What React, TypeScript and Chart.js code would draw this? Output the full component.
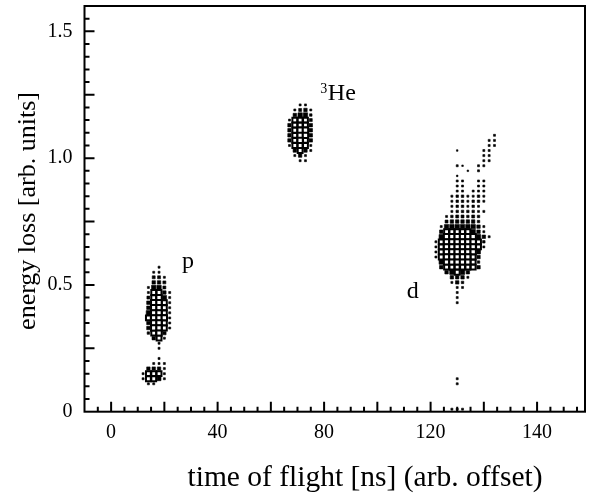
import React, { useEffect, useRef } from 'react';
import { Chart, registerables } from 'chart.js';

Chart.register(...registerables);

// ---- axes ----
const xTickValues = [0, 40, 80, 120, 160];
const xTickLabels = ['0', '40', '80', '120', '140'];
const yTickValues = [0, 0.5, 1.0, 1.5];
const yTickLabels = ['0', '0.5', '1.0', '1.5'];
const xMin = -10;
const xMax = 178;
const yMin = 0;
const yMax = 1.6;
const xMinorStep = 5;
const xMajorStep = 20;
const yMinorStep = 0.05;
const yMajorStep = 0.25;
const xTitle = 'time of flight [ns] (arb. offset)';
const yTitle = 'energy loss [arb. units]';

// ---- histogram binning ----
const binWidthTof = 2;
const binHeightLoss = 0.02;

// counts per bin (level 1..9, '.' = empty); rows go downward in energy loss
const pFirstTof = 12;
const pTopLoss = 0.57;
const pCounts = [
  '...2..',
  '..22..',
  '..442.',
  '..554.',
  '.2774.',
  '.28852',
  '.48972',
  '.59982',
  '.59982',
  '.79982',
  '.89992',
  '.59982',
  '.59982',
  '.3895.',
  '..582.',
  '...2..',
  '...2..',
  '......',
  '...2..',
  '..222.',
  '.5552.',
  '28882.',
  '28862.',
  '.22...',
];

const heFirstTof = 67;
const heTopLoss = 1.21;
const heCounts = [
  '..22.',
  '.2452',
  '.5773',
  '28884',
  '58885',
  '58995',
  '58995',
  '58985',
  '28882',
  '.5852',
  '.252.',
  '..22.',
];

const dFirstTof = 122;
const dTopLoss = 1.09;
const dCounts = [
  '...........2',
  '..........22',
  '..........22',
  '....1....22.',
  '.........22.',
  '.........22.',
  '....21..22..',
  '......1.2...',
  '....1.......',
  '....22..22..',
  '....22..22..',
  '....22.222..',
  '...2332232..',
  '...2332332..',
  '...233232...',
  '...2333322..',
  '..2344343...',
  '..4555553...',
  '.277777752..',
  '.588888752..',
  '.7999999752.',
  '2899999983..',
  '2899999982..',
  '289999996...',
  '289999985...',
  '.79999983...',
  '.58888885...',
  '..57875.....',
  '...5552.....',
  '...253......',
  '....22......',
  '....2.......',
  '....2.......',
  '....2.......',
];

const strayTof = [130, 130, 128, 130, 132];
const strayLoss = [0.13, 0.11, 0.01, 0.01, 0.01];
const strayCounts = [2, 2, 2, 2, 2];

// ---- peak labels (data coordinates) ----
const peakLabels = [
  { text: 'p', sup: '', tof: 26.6, loss: 0.567 },
  { text: 'He', sup: '3', tof: 81.4, loss: 1.228 },
  { text: 'd', sup: '', tof: 111, loss: 0.449 },
];

type Cell = { x: number; y: number; v: number };

function gridCells(firstTof: number, topLoss: number, rows: string[]): Cell[] {
  const out: Cell[] = [];
  rows.forEach((row, r) => {
    row.split('').forEach((ch, c) => {
      const v = ch === '.' ? 0 : Number(ch);
      if (v > 0) {
        out.push({
          x: firstTof + c * binWidthTof,
          y: Math.round((topLoss - r * binHeightLoss) * 1000) / 1000,
          v,
        });
      }
    });
  });
  return out;
}

const strayCells: Cell[] = strayTof.map((t, i) => ({ x: t, y: strayLoss[i], v: strayCounts[i] }));

const serif = '"Liberation Serif", "Times New Roman", serif';

function boxSize(ctx: any): number {
  const raw = ctx.raw as Cell | undefined;
  if (!raw) return 0;
  const sx = ctx.chart.scales.x;
  const bin = Math.abs(sx.getPixelForValue(binWidthTof) - sx.getPixelForValue(0)) || 5.3;
  return bin * (0.2 + 0.8 * raw.v / 9);
}

const framePlugin = {
  id: 'frameAndText',
  afterDatasetsDraw(chart: any) {
    const { ctx, chartArea: a, scales } = chart;
    const sx = scales.x;
    const sy = scales.y;
    ctx.save();
    ctx.strokeStyle = '#000';
    ctx.lineWidth = 2;
    ctx.strokeRect(a.left, a.top, a.right - a.left, a.bottom - a.top);
    ctx.beginPath();
    const nx = Math.floor((xMax - xMin) / xMinorStep + 1e-6);
    for (let i = 1; i <= nx; i++) {
      const v = xMin + i * xMinorStep;
      const px = sx.getPixelForValue(v);
      const major = Math.abs(v / xMajorStep - Math.round(v / xMajorStep)) < 1e-6;
      const len = major ? 10 : 5;
      ctx.moveTo(px, a.bottom);
      ctx.lineTo(px, a.bottom - len);
    }
    const ny = Math.floor((yMax - yMin) / yMinorStep + 1e-6);
    for (let i = 1; i < ny; i++) {
      const v = yMin + i * yMinorStep;
      const py = sy.getPixelForValue(v);
      const major = Math.abs(v / yMajorStep - Math.round(v / yMajorStep)) < 1e-6;
      const len = major ? 10 : 5;
      ctx.moveTo(a.left, py);
      ctx.lineTo(a.left + len, py);
    }
    ctx.stroke();

    ctx.fillStyle = '#000';
    // peak labels
    peakLabels.forEach((l) => {
      const px = sx.getPixelForValue(l.tof);
      const py = sy.getPixelForValue(l.loss);
      ctx.textAlign = 'left';
      ctx.textBaseline = 'alphabetic';
      if (l.sup) {
        ctx.font = `14px ${serif}`;
        const w = ctx.measureText(l.sup).width;
        ctx.fillText(l.sup, px - w - 0.5, py - 7.5);
      }
      ctx.font = `24px ${serif}`;
      ctx.fillText(l.text, px, py);
    });

    // axis titles
    ctx.textAlign = 'center';
    ctx.textBaseline = 'alphabetic';
    ctx.font = `29.5px ${serif}`;
    ctx.fillText(xTitle, 365, 486);
    ctx.font = `26px ${serif}`;
    ctx.translate(35, 211);
    ctx.rotate(-Math.PI / 2);
    ctx.fillText(yTitle, 0, 0);
    ctx.restore();
  },
};

export default function App() {
  const ref = useRef<HTMLCanvasElement | null>(null);
  useEffect(() => {
    if (!ref.current) return;
    const mk = (data: Cell[]) => ({
      data,
      pointStyle: 'rect' as const,
      pointRadius: (c: any) => {
        const s = boxSize(c);
        return s / Math.SQRT2;
      },
      pointBackgroundColor: (c: any) => (c.raw && c.raw.v >= 8 ? '#ffffff' : '#000000'),
      pointBorderColor: '#000000',
      pointBorderWidth: (c: any) => (c.raw && c.raw.v >= 8 ? 2 : 0.6),
      showLine: false,
    });
    const chart = new Chart(ref.current, {
      type: 'scatter',
      data: {
        datasets: [
          mk(gridCells(pFirstTof, pTopLoss, pCounts)),
          mk(gridCells(heFirstTof, heTopLoss, heCounts)),
          mk(gridCells(dFirstTof, dTopLoss, dCounts)),
          mk(strayCells),
        ],
      },
      options: {
        animation: false,
        responsive: false,
        events: [],
        layout: { padding: { top: 6, right: 10, left: 0, bottom: 0 } },
        plugins: { legend: { display: false }, tooltip: { enabled: false } },
        scales: {
          x: {
            type: 'linear',
            min: xMin,
            max: xMax,
            grid: { display: false, drawTicks: false },
            border: { display: false },
            afterBuildTicks: (s: any) => {
              s.ticks = xTickValues.map((v) => ({ value: v }));
            },
            afterFit: (s: any) => {
              s.height = 83.3;
              s.paddingLeft = 0;
              s.paddingRight = 0;
            },
            ticks: {
              autoSkip: false,
              maxRotation: 0,
              padding: 9,
              color: '#000',
              font: { family: serif, size: 20 },
              callback: (_v: any, i: number) => xTickLabels[i],
            },
          },
          y: {
            type: 'linear',
            min: yMin,
            max: yMax,
            grid: { display: false, drawTicks: false },
            border: { display: false },
            afterBuildTicks: (s: any) => {
              s.ticks = yTickValues.map((v) => ({ value: v }));
            },
            afterFit: (s: any) => {
              s.width = 84.5;
              s.paddingTop = 0;
              s.paddingBottom = 0;
            },
            ticks: {
              autoSkip: false,
              padding: 12,
              color: '#000',
              font: { family: serif, size: 20 },
              callback: (_v: any, i: number) => yTickLabels[i],
            },
          },
        },
      },
      plugins: [framePlugin],
    });
    return () => chart.destroy();
  }, []);
  return (
    <div style={{ position: 'absolute', left: 0, top: 0, width: 595, height: 495, background: '#fff' }}>
      <canvas ref={ref} width={595} height={495} />
    </div>
  );
}
